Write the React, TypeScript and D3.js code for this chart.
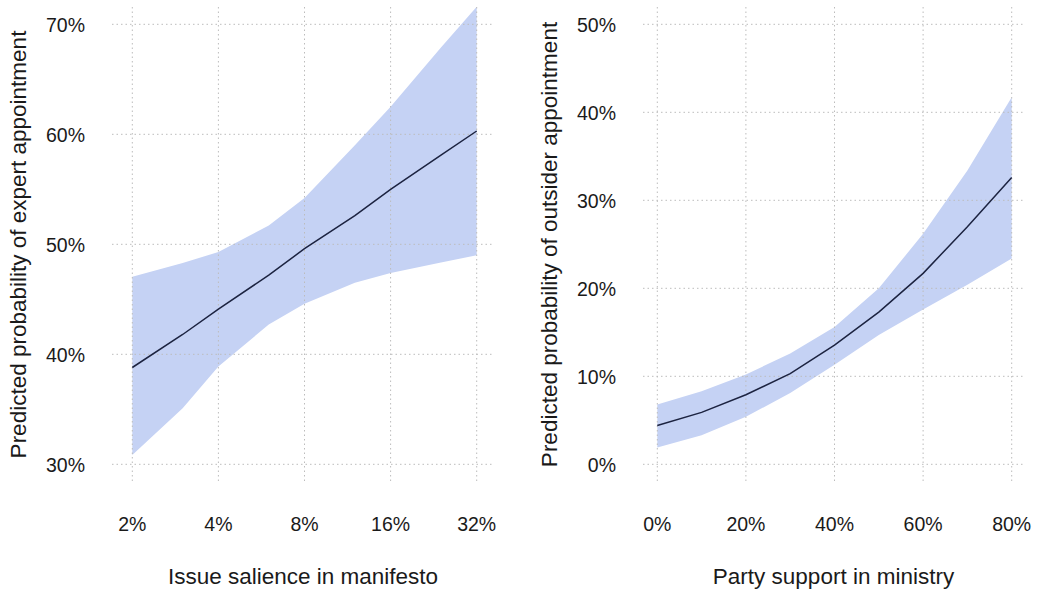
import React from "react";
import * as d3 from "d3";

// ---- Data ----
const salience = [2, 3, 4, 6, 8, 12, 16, 24, 32];
const expertFit = [38.8, 41.8, 44.1, 47.2, 49.6, 52.6, 55.0, 58.1, 60.3];
const expertLower = [30.85, 35.1, 38.9, 42.7, 44.6, 46.5, 47.4, 48.35, 49.0];
const expertUpper = [47.05, 48.3, 49.3, 51.7, 54.2, 59.0, 62.5, 67.9, 71.6];
const salienceTicks = [2, 4, 8, 16, 32];
const expertTicks = [30, 40, 50, 60, 70];

const support = [0, 10, 20, 30, 40, 50, 60, 70, 80];
const outsiderFit = [4.4, 5.9, 7.9, 10.3, 13.55, 17.3, 21.7, 27.0, 32.6];
const outsiderLower = [1.9, 3.3, 5.4, 8.1, 11.3, 14.7, 17.6, 20.4, 23.4];
const outsiderUpper = [6.8, 8.3, 10.2, 12.6, 15.6, 20.0, 26.2, 33.4, 41.7];
const supportTicks = [0, 20, 40, 60, 80];
const outsiderTicks = [0, 10, 20, 30, 40, 50];

const FONT = "'Liberation Sans', Arial, Helvetica, sans-serif";
const BAND = "#c5d2f4";
const LINE = "#1c2340";
const GRID = "#bcbcbc";
const TEXT = "#1a1a1a";

type PanelProps = {
  xs: number[];
  fit: number[];
  lo: number[];
  hi: number[];
  xTicks: number[];
  yTicks: number[];
  x: (v: number) => number;
  y: (v: number) => number;
  panel: { left: number; right: number; top: number; bottom: number };
  xTitle: string;
  yTitle: string;
  yTitleX: number;
};

function Panel(p: PanelProps) {
  const idx = p.xs.map((_, i) => i);
  const area = d3
    .area<number>()
    .x((i) => p.x(p.xs[i]))
    .y0((i) => p.y(p.lo[i]))
    .y1((i) => p.y(p.hi[i]));
  const line = d3
    .line<number>()
    .x((i) => p.x(p.xs[i]))
    .y((i) => p.y(p.fit[i]));
  const cx = (p.panel.left + p.panel.right) / 2;
  const cy = (p.panel.top + p.panel.bottom) / 2;
  const tickLabelRight = p.panel.left - 27;
  return (
    <g>
      <path d={area(idx) || ""} fill={BAND} />
      {p.xTicks.map((t) => (
        <line
          key={"vx" + t}
          x1={p.x(t)}
          x2={p.x(t)}
          y1={p.panel.top}
          y2={p.panel.bottom}
          stroke={GRID}
          strokeWidth={1}
          strokeDasharray="1.5 3"
        />
      ))}
      {p.yTicks.map((t) => (
        <line
          key={"hy" + t}
          x1={p.panel.left}
          x2={p.panel.right}
          y1={p.y(t)}
          y2={p.y(t)}
          stroke={GRID}
          strokeWidth={1}
          strokeDasharray="1.5 3"
        />
      ))}
      <path d={line(idx) || ""} fill="none" stroke={LINE} strokeWidth={1.5} />
      {p.xTicks.map((t) => (
        <text
          key={"tx" + t}
          x={p.x(t)}
          y={531}
          textAnchor="middle"
          fontSize={19.5}
          fill={TEXT}
          fontFamily={FONT}
        >
          {t + "%"}
        </text>
      ))}
      {p.yTicks.map((t) => (
        <text
          key={"ty" + t}
          x={tickLabelRight}
          y={p.y(t) + 7.5}
          textAnchor="end"
          fontSize={19.5}
          fill={TEXT}
          fontFamily={FONT}
        >
          {t + "%"}
        </text>
      ))}
      <text
        x={cx}
        y={584}
        textAnchor="middle"
        fontSize={22.5}
        fill={TEXT}
        fontFamily={FONT}
      >
        {p.xTitle}
      </text>
      <text
        transform={`translate(${p.yTitleX},${cy}) rotate(-90)`}
        textAnchor="middle"
        fontSize={22.5}
        fill={TEXT}
        fontFamily={FONT}
      >
        {p.yTitle}
      </text>
    </g>
  );
}

export default function App() {
  const xL = d3.scaleLog().base(2).domain([2, 32]).range([132.3, 476.7]);
  const yL = d3.scaleLinear().domain([30, 70]).range([464.3, 24.3]);
  const xR = d3.scaleLinear().domain([0, 80]).range([657.3, 1011.7]);
  const yR = d3.scaleLinear().domain([0, 50]).range([464.3, 24.3]);
  return (
    <svg
      width={1039}
      height={591}
      style={{ position: "absolute", left: 0, top: 0, background: "#fff" }}
    >
      <rect x={0} y={0} width={1039} height={591} fill="#fff" />
      <Panel
        xs={salience}
        fit={expertFit}
        lo={expertLower}
        hi={expertUpper}
        xTicks={salienceTicks}
        yTicks={expertTicks}
        x={(v) => xL(v)}
        y={(v) => yL(v)}
        panel={{ left: 112, right: 494, top: 7, bottom: 482 }}
        xTitle="Issue salience in manifesto"
        yTitle="Predicted probability of expert appointment"
        yTitleX={26}
      />
      <Panel
        xs={support}
        fit={outsiderFit}
        lo={outsiderLower}
        hi={outsiderUpper}
        xTicks={supportTicks}
        yTicks={outsiderTicks}
        x={(v) => xR(v)}
        y={(v) => yR(v)}
        panel={{ left: 643, right: 1024, top: 7, bottom: 482 }}
        xTitle="Party support in ministry"
        yTitle="Predicted probability of outsider appointment"
        yTitleX={557}
      />
    </svg>
  );
}
